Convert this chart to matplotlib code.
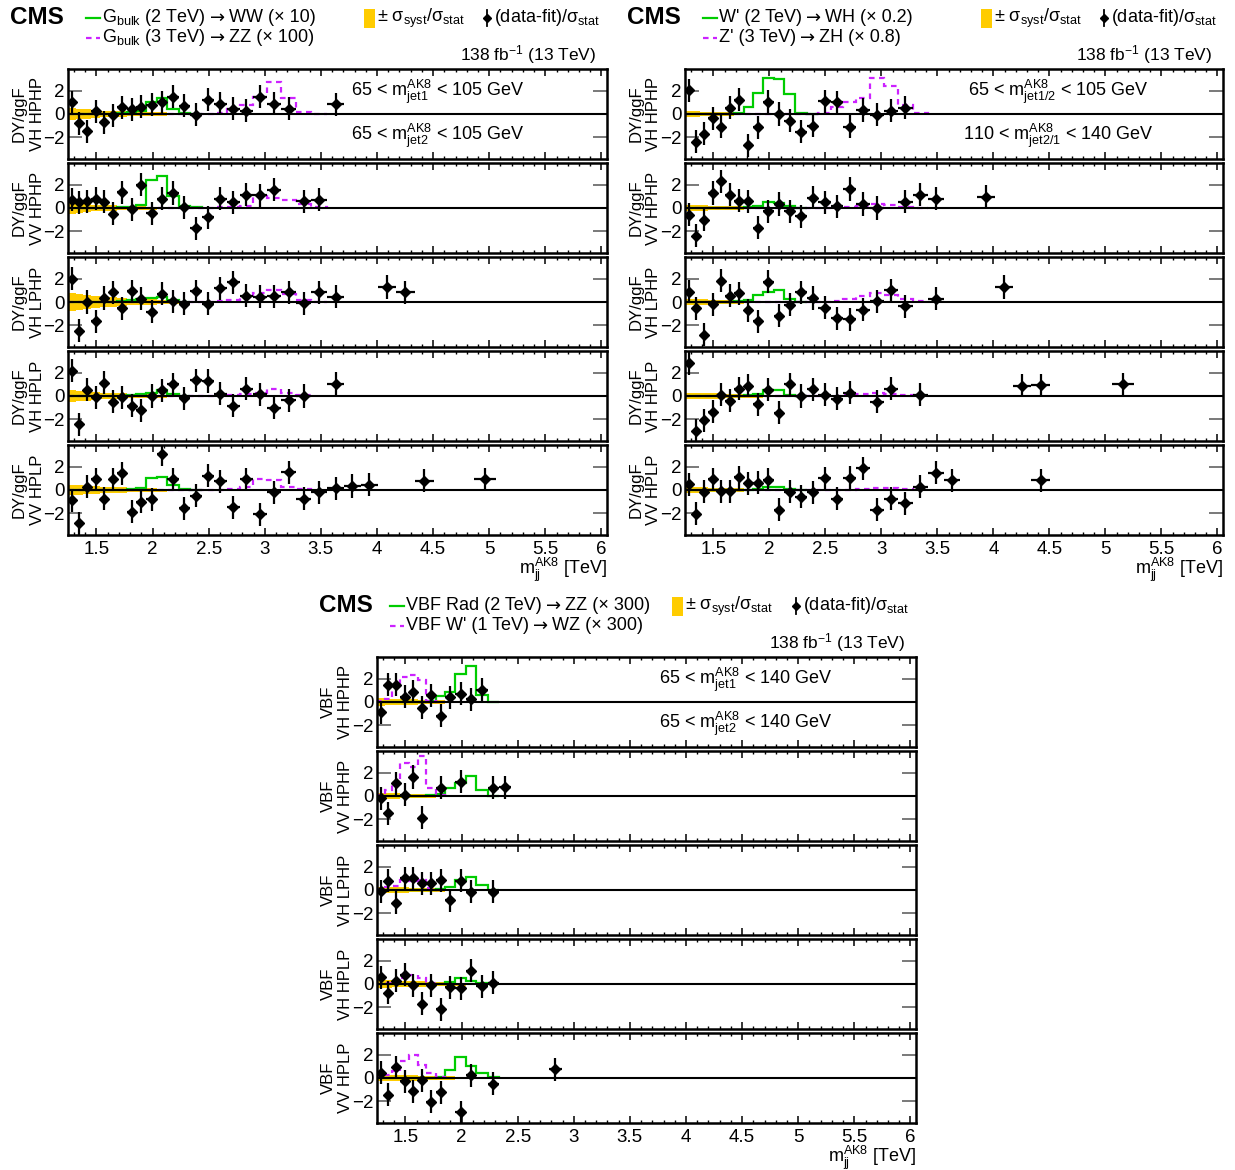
import matplotlib
matplotlib.use('Agg')
import matplotlib.pyplot as plt
import numpy as np
from matplotlib.ticker import MultipleLocator, FixedLocator
from matplotlib.patches import Rectangle
from matplotlib.lines import Line2D

plt.rcParams['font.family'] = ['Liberation Sans', 'DejaVu Sans']
plt.rcParams['mathtext.fontset'] = 'custom'
plt.rcParams['mathtext.rm'] = 'Liberation Sans'
plt.rcParams['mathtext.it'] = 'Liberation Sans:italic'
plt.rcParams['mathtext.bf'] = 'Liberation Sans:bold'
plt.rcParams['axes.unicode_minus'] = True

# ---------------- data ----------------
mjj_edges = [1.246, 1.313, 1.383, 1.455, 1.530, 1.607, 1.687, 1.770, 1.856, 1.945,
             2.037, 2.132, 2.231, 2.332, 2.438, 2.546, 2.659, 2.775, 2.895, 3.019,
             3.147, 3.279, 3.416, 3.558, 3.704, 3.854, 4.010, 4.171, 4.337, 4.509,
             4.686, 4.869, 5.058, 5.253, 5.455, 5.663, 5.877, 6.099]

N = None
# (data-fit)/sigma_stat, one value per mjj bin (None = no entry)
# Group A: bulk graviton
pull_A_vh_hphp = [1.0, -0.8, -1.5, 0.25, -0.7, -0.1, 0.6, 0.4, 0.65, 0.8, 1.0, 1.5, 0.7, -0.05,
                  1.25, 0.9, 0.45, 0.3, 1.5, 0.9, 0.45, N, N, 0.85]
pull_A_vv_hphp = [0.7, 0.5, 0.6, 0.8, 0.55, -0.5, 1.35, -0.1, 2.0, -0.45, 0.8, 1.3, 0.05, -1.75,
                  -0.8, 0.8, 0.5, 1.15, 1.1, 1.6, N, 0.6, 0.7]
pull_A_vh_lphp = [2.0, -2.5, 0.0, -1.65, 0.35, 0.85, -0.55, 0.95, 0.3, -0.85, 0.7, 0.05, -0.15,
                  0.95, -0.15, 1.2, 1.7, 0.55, 0.45, 0.5, 0.85, -0.1, 0.85, 0.45, N, N, 1.3, 0.85]
pull_A_vh_hplp = [2.2, -2.45, 0.55, -0.1, 1.15, -0.5, -0.1, -0.85, -1.25, 0.0, 0.5, 1.0, -0.2,
                  1.35, 1.3, 0.2, -0.85, 0.65, 0.15, -1.0, -0.35, 0.0, N, 1.05]
pull_A_vv_hplp = [-0.9, -2.9, 0.3, 0.95, -0.75, 0.95, 1.45, -1.9, -1.0, -0.8, 3.1, 0.95, -1.6,
                  -0.5, 1.25, 0.75, -1.5, 0.95, -2.1, -0.2, 1.55, -0.75, -0.2, 0.15, 0.35, 0.45,
                  N, N, 0.8, N, N, 0.95]
# Group B: W' / Z'
pull_B_vh_hphp = [2.05, -2.4, -1.7, -0.35, -1.1, 0.55, 1.25, -2.7, -1.15, 1.05, 0.0, -0.6, -1.55,
                  -1.0, 1.1, 1.0, -1.1, 0.35, -0.05, 0.3, 0.55]
pull_B_vv_hphp = [-0.6, -2.4, -1.0, 1.3, 2.3, 1.15, 0.65, 0.6, -1.7, -0.3, 0.35, -0.3, -0.7, 0.9,
                  0.5, 0.15, 1.65, 0.35, 0.0, N, 0.55, 1.15, 0.8, N, N, 0.95]
pull_B_vh_lphp = [0.9, -0.55, -2.85, -0.2, 1.85, 0.55, 0.75, -0.7, -1.65, 1.75, -1.2, -0.25, 0.85,
                  0.35, -0.5, -1.4, -1.5, -0.65, 0.05, 1.0, -0.35, N, 0.3, N, N, N, 1.3]
pull_B_vh_hplp = [2.85, -3.0, -2.1, -1.35, 0.1, -0.4, 0.65, 0.9, -0.7, 0.55, -1.45, 1.0, 0.0, 0.6,
                  0.1, -0.25, 0.3, N, -0.5, 0.65, N, 0.1, N, N, N, N, N, 0.9, 0.95, N, N, N, 1.0]
pull_B_vv_hplp = [0.5, -2.05, -0.15, 0.95, -0.1, -0.1, 1.1, 0.6, 0.65, 0.9, -1.7, -0.15, -0.6,
                  -0.2, 1.0, -0.75, 1.05, 1.9, -1.7, -0.75, -1.15, 0.3, 1.5, 0.85, N, N, N, N, 0.85]
# Group C: VBF
pull_C_vh_hphp = [-0.9, 1.5, 1.5, 0.45, 0.9, -0.5, 0.6, -1.2, 0.4, 0.7, 0.25, 1.05]
pull_C_vv_hphp = [-0.2, -1.5, 1.1, 0.1, 1.65, -1.9, N, 0.7, N, 1.25, N, N, 0.7, 0.75]
pull_C_vh_lphp = [-0.1, 0.8, -1.1, 1.0, 1.0, 0.6, 0.6, 0.85, -0.9, 0.8, -0.15, N, -0.15]
pull_C_vh_hplp = [0.6, -0.75, 0.3, 0.8, -0.1, -1.7, -0.1, -2.2, -0.3, -0.35, 1.15, -0.2, 0.1]
pull_C_vv_hplp = [0.45, -1.45, 0.95, -0.3, -1.15, -0.2, -2.05, -1.25, N, -2.95, 0.25, N, -0.5,
                  N, N, N, N, 0.75]

# signal 1 (solid green) per bin
sig1_A = [[0, 0, 0, 0, 0, 0.02, 0.05, 0.15, 0.3, 1.0, 1.4, 0.45, 0.1, 0.02],
          [0, 0, 0, 0, 0, 0.02, 0.05, 0.1, 0.3, 2.4, 2.75, 1.0, 0.2, 0.05],
          [0, 0, 0, 0, 0, 0.02, 0.05, 0.2, 0.3, 0.35, 0.45, 0.15, 0.03],
          [0, 0, 0, 0, 0, 0, 0.02, 0.05, 0.15, 0.3, 0.5, 0.15, 0.03],
          [0, 0, 0, 0, 0, 0, 0.02, 0.05, 0.15, 1.0, 1.1, 0.45, 0.1, 0.02]]
sig1_B = [[0, 0, 0, 0, 0, 0.02, 0.1, 0.6, 1.8, 3.1, 3.0, 1.7, 0.1, 0.02],
          [0, 0, 0, 0, 0, 0, 0, 0.05, 0.2, 0.55, 0.45, 0.15, 0.03],
          [0, 0, 0, 0, 0, 0, 0.05, 0.2, 0.6, 0.9, 1.0, 0.25, 0.03],
          [0, 0, 0, 0, 0, 0, 0, 0.05, 0.15, 0.5, 0.5, 0.1, 0.02],
          [0, 0, 0, 0, 0, 0, 0, 0, 0.05, 0.3, 0.3, 0.05, 0.01]]
sig1_C = [[0, 0, 0, 0, 0, 0, 0.05, 0.55, 0.9, 2.45, 3.1, 0.6, 0.02],
          [0, 0, 0, 0, 0, 0, 0.05, 0.15, 0.7, 1.15, 1.7, 0.5, 0.02],
          [0, 0, 0, 0, 0, 0, 0, 0.1, 0.3, 0.9, 1.1, 0.4, 0.02],
          [0, 0, 0, 0, 0, 0, 0, 0, 0.15, 0.5, 0.3, 0.1, 0.01],
          [0, 0, 0, 0, 0, 0, 0, 0.1, 0.7, 1.85, 1.0, 0.45, 0.05]]
# signal 2 (dashed magenta) per bin
sig2_A = [[0] * 13 + [0.02, 0.03, 0.1, 0.45, 0.8, 1.5, 2.8, 1.4, 0.15, 0.03],
          [0] * 14 + [0.02, 0.05, 0.1, 0.2, 1.0, 0.9, 0.7, 0.35, 0.05],
          [0] * 15 + [0.05, 0.15, 0.4, 0.8, 1.0, 0.7, 0.15, 0.03],
          [0] * 16 + [0.05, 0.15, 0.25, 0.6, 0.25, 0.05],
          [0] * 16 + [0.05, 0.3, 0.95, 0.9, 0.3, 0.05]]
sig2_B = [[0] * 13 + [0.02, 0.05, 0.6, 1.0, 1.4, 3.1, 2.4, 0.75, 0.1],
          [0] * 16 + [0.05, 0.2, 0.35, 0.25, 0.1, 0.03],
          [0] * 14 + [0.03, 0.1, 0.3, 0.5, 0.8, 0.6, 0.3, 0.1],
          [0] * 16 + [0.05, 0.2, 0.3, 0.2, 0.1],
          [0] * 17 + [0.1, 0.2, 0.15, 0.05]]
sig2_C = [[0.05, 0.3, 1.4, 2.2, 2.3, 1.9, 0.1, 0.02],
          [0.1, 0.55, 1.1, 2.85, 2.5, 3.5, 0.7, 0.1],
          [0.05, 0.3, 0.35, 0.9, 0.8, 0.85, 0.2, 0.02],
          [0.0, 0.1, 0.3, 0.5, 0.75, 0.55, 0.1],
          [0.1, 0.3, 0.6, 1.5, 2.0, 1.1, 0.4, 0.05]]

# +- sigma_syst/sigma_stat band half widths per bin
band_A = [[0.5, 0.45, 0.4, 0.35, 0.3, 0.27, 0.23, 0.2, 0.18, 0.16, 0.14, 0.12, 0.1, 0.09, 0.08, 0.07, 0.06, 0.05],
          [0.5, 0.42, 0.36, 0.3, 0.26, 0.22, 0.19, 0.17, 0.15, 0.13, 0.11, 0.1, 0.08, 0.07, 0.06, 0.05],
          [0.75, 0.68, 0.6, 0.52, 0.45, 0.4, 0.34, 0.3, 0.26, 0.22, 0.19, 0.16, 0.13, 0.11, 0.09, 0.07],
          [0.5, 0.45, 0.4, 0.35, 0.3, 0.26, 0.23, 0.2, 0.17, 0.15, 0.13, 0.11, 0.1, 0.08, 0.07, 0.06, 0.05, 0.04],
          [0.45, 0.4, 0.36, 0.32, 0.28, 0.25, 0.22, 0.19, 0.17, 0.15, 0.13, 0.11, 0.1, 0.08, 0.07, 0.06, 0.05, 0.04]]
band_B = [[0.25, 0.22, 0.2, 0.18, 0.16, 0.14, 0.12, 0.1, 0.09, 0.08, 0.07, 0.06, 0.05],
          [0.3, 0.27, 0.24, 0.21, 0.18, 0.16, 0.14, 0.12, 0.1, 0.09, 0.08, 0.07, 0.06],
          [0.3, 0.27, 0.24, 0.21, 0.18, 0.16, 0.14, 0.12, 0.1, 0.09, 0.08, 0.07],
          [0.3, 0.28, 0.26, 0.24, 0.22, 0.2, 0.18, 0.16, 0.14, 0.12, 0.11, 0.1, 0.09, 0.08, 0.07, 0.06],
          [0.3, 0.27, 0.24, 0.21, 0.18, 0.16, 0.14, 0.12, 0.1, 0.09, 0.08, 0.07, 0.06]]
band_C = [[0.35, 0.3, 0.27, 0.24, 0.22, 0.2, 0.18, 0.15],
          [0.3, 0.26, 0.23, 0.2, 0.18, 0.16, 0.14, 0.12],
          [0.3, 0.28, 0.25, 0.22, 0.2, 0.18, 0.16, 0.14, 0.12, 0.1],
          [0.35, 0.32, 0.3, 0.27, 0.25, 0.22, 0.2, 0.18, 0.15, 0.13, 0.11, 0.1],
          [0.3, 0.28, 0.26, 0.24, 0.22, 0.2, 0.18, 0.16, 0.14, 0.12, 0.1, 0.09, 0.08, 0.07]]

cats_A = ["DY/ggF\nVH HPHP", "DY/ggF\nVV HPHP", "DY/ggF\nVH LPHP", "DY/ggF\nVH HPLP", "DY/ggF\nVV HPLP"]
cats_C = ["VBF\nVH HPHP", "VBF\nVV HPHP", "VBF\nVH LPHP", "VBF\nVH HPLP", "VBF\nVV HPLP"]

# legend entries: (before arrow, after arrow)
leg_A = [(r"G$_{\rm bulk}$ (2 TeV)", "WW (× 10)"), (r"G$_{\rm bulk}$ (3 TeV)", "ZZ (× 100)")]
leg_B = [("W' (2 TeV)", "WH (× 0.2)"), ("Z' (3 TeV)", "ZH (× 0.8)")]
leg_C = [("VBF Rad (2 TeV)", "ZZ (× 300)"), ("VBF W' (1 TeV)", "WZ (× 300)")]

mass_A = [r"65 < m$^{\rm AK8}_{\rm jet1}$ < 105 GeV", r"65 < m$^{\rm AK8}_{\rm jet2}$ < 105 GeV"]
mass_B = [r"65 < m$^{\rm AK8}_{\rm jet1/2}$ < 105 GeV", r"110 < m$^{\rm AK8}_{\rm jet2/1}$ < 140 GeV"]
mass_C = [r"65 < m$^{\rm AK8}_{\rm jet1}$ < 140 GeV", r"65 < m$^{\rm AK8}_{\rm jet2}$ < 140 GeV"]

# ---------------- figure ----------------
W, H = 1235, 1170
fig = plt.figure(figsize=(W / 100, H / 100), dpi=100)
renderer = fig.canvas.get_renderer()

GREEN = '#00cc00'
MAGENTA = '#cc22ff'
GOLD = '#ffcc00'
edges = np.array(mjj_edges)
centers = 0.5 * (edges[1:] + edges[:-1])
halfw = 0.5 * (edges[1:] - edges[:-1])


def fx(px):
    return px / W


def fy(py):
    return 1 - py / H


def text_parts(x, y, parts, fs, gap=4):
    """Draw consecutive text pieces starting at pixel x (left), centre y."""
    for s, fam in parts:
        kw = dict(fontsize=fs, ha='left', va='center')
        if fam:
            kw['family'] = fam
        t = fig.text(fx(x), fy(y), s, **kw)
        bb = t.get_window_extent(renderer)
        x += bb.width + gap


def panel(ax, pulls, s1, s2, band, show_x):
    b = np.array(band)
    ax.stairs(b, edges[:len(b) + 1], baseline=-b, fill=True, color=GOLD, lw=0, zorder=1)
    ax.stairs(np.array(s1, float), edges[:len(s1) + 1], baseline=0, color=GREEN, lw=1.6, zorder=2)
    ax.stairs(np.array(s2, float), edges[:len(s2) + 1], baseline=0, color=MAGENTA, lw=1.6,
              ls=(0, (2.5, 2)), zorder=2)
    ax.axhline(0, color='black', lw=1.5, zorder=3)
    idx = [i for i, v in enumerate(pulls) if v is not None]
    ax.errorbar(centers[idx], [pulls[i] for i in idx], yerr=1.0, xerr=halfw[idx],
                fmt='D', ms=4.6, color='black', ecolor='black', elinewidth=1.6, capsize=0, zorder=4)
    ax.set_xlim(1.246, 6.05)
    ax.set_ylim(-3.9, 3.9)
    ax.yaxis.set_major_locator(FixedLocator([-2, 0, 2]))
    ax.xaxis.set_major_locator(MultipleLocator(0.5))
    ax.xaxis.set_minor_locator(MultipleLocator(0.1))
    ax.tick_params(axis='y', which='major', direction='in', length=10, width=1.1, color='#555555',
                   left=True, right=True, labelsize=13.5, pad=2.5)
    ax.tick_params(axis='x', which='major', direction='in', length=5, width=1.1, top=True,
                   bottom=True, labelsize=13.5, pad=4)
    ax.tick_params(axis='x', which='minor', direction='in', length=2.5, width=1.0, top=True, bottom=True)
    ax.set_yticklabels(['−2', '0', '2'])
    if not show_x:
        ax.tick_params(axis='x', labelbottom=False)
    else:
        ax.set_xticklabels([("%g" % t) for t in ax.get_xticks()])
    for s in ax.spines.values():
        s.set_linewidth(1.8)


groups = [
    dict(x0=68, x1=607, z0=114, pulls=[pull_A_vh_hphp, pull_A_vv_hphp, pull_A_vh_lphp, pull_A_vh_hplp, pull_A_vv_hplp],
         s1=sig1_A, s2=sig2_A, band=band_A, cats=cats_A, leg=leg_A, mass=mass_A, legx=86, boxx=364, dfx=487,
         txt_cx=438),
    dict(x0=685, x1=1223, z0=114, pulls=[pull_B_vh_hphp, pull_B_vv_hphp, pull_B_vh_lphp, pull_B_vh_hplp, pull_B_vv_hplp],
         s1=sig1_B, s2=sig2_B, band=band_B, cats=cats_A, leg=leg_B, mass=mass_B, legx=703, boxx=981, dfx=1104,
         txt_cx=1058),
    dict(x0=377, x1=916, z0=702, pulls=[pull_C_vh_hphp, pull_C_vv_hphp, pull_C_vh_lphp, pull_C_vh_hplp, pull_C_vv_hplp],
         s1=sig1_C, s2=sig2_C, band=band_C, cats=cats_C, leg=leg_C, mass=mass_C, legx=390, boxx=672, dfx=796,
         txt_cx=746),
]

for g in groups:
    x0, x1, z0 = g['x0'], g['x1'], g['z0']
    for k in range(5):
        zero = z0 + 94 * k
        top = zero - 45
        ax = fig.add_axes([fx(x0), fy(top + 90), (x1 - x0) / W, 90 / H])
        panel(ax, g['pulls'][k], g['s1'][k], g['s2'][k], g['band'][k], k == 4)
        fig.text(fx(x0 - 40), fy(zero), g['cats'][k], rotation=90, ha='center', va='center',
                 fontsize=12, linespacing=1.25, multialignment='center')
        if k == 0:
            ax.text((g['txt_cx'] - x0) / (x1 - x0), 0.745, g['mass'][0], transform=ax.transAxes,
                    ha='center', va='center', fontsize=13)
            ax.text((g['txt_cx'] - x0) / (x1 - x0), 0.255, g['mass'][1], transform=ax.transAxes,
                    ha='center', va='center', fontsize=13)
        if k == 4:
            ax.text(1.0, -0.385, r"m$^{\rm AK8}_{\rm jj}$ [TeV]", transform=ax.transAxes,
                    ha='right', va='center', fontsize=13)
    # header
    ty = z0 - 96
    fig.text(fx(x0 - 58), fy(ty), "CMS", fontsize=17.5, fontweight='bold', ha='left', va='center')
    lx = g['legx']
    fig.add_artist(Line2D([fx(lx), fx(lx + 14)], [fy(ty), fy(ty)], color=GREEN, lw=1.6))
    fig.add_artist(Line2D([fx(lx), fx(lx + 14)], [fy(ty + 20), fy(ty + 20)], color=MAGENTA, lw=1.6,
                          ls=(0, (2.5, 2))))
    for r, (a, b) in enumerate(g['leg']):
        text_parts(lx + 16, ty + 20 * r, [(a, None), ("→", 'DejaVu Sans'), (b, None)], 13)
    bx = g['boxx']
    fig.add_artist(Rectangle((fx(bx), fy(ty + 10)), 11 / W, 19 / H, color=GOLD, lw=0))
    fig.text(fx(bx + 13), fy(ty), r"± σ$_{\rm syst}$/σ$_{\rm stat}$", fontsize=13, ha='left', va='center')
    dx = g['dfx']
    fig.add_artist(Line2D([fx(dx), fx(dx)], [fy(ty - 8), fy(ty + 8)], color='black', lw=1.3))
    fig.add_artist(Line2D([fx(dx)], [fy(ty)], marker='D', ms=4, color='black'))
    fig.text(fx(dx + 7), fy(ty), r"(data-fit)/σ$_{\rm stat}$", fontsize=13, ha='left', va='center')
    fig.text(fx(x1 - 11), fy(z0 - 59), r"138 fb$^{-1}$ (13 TeV)", fontsize=12.5, ha='right', va='center')

fig.savefig('out.png', dpi=100)
